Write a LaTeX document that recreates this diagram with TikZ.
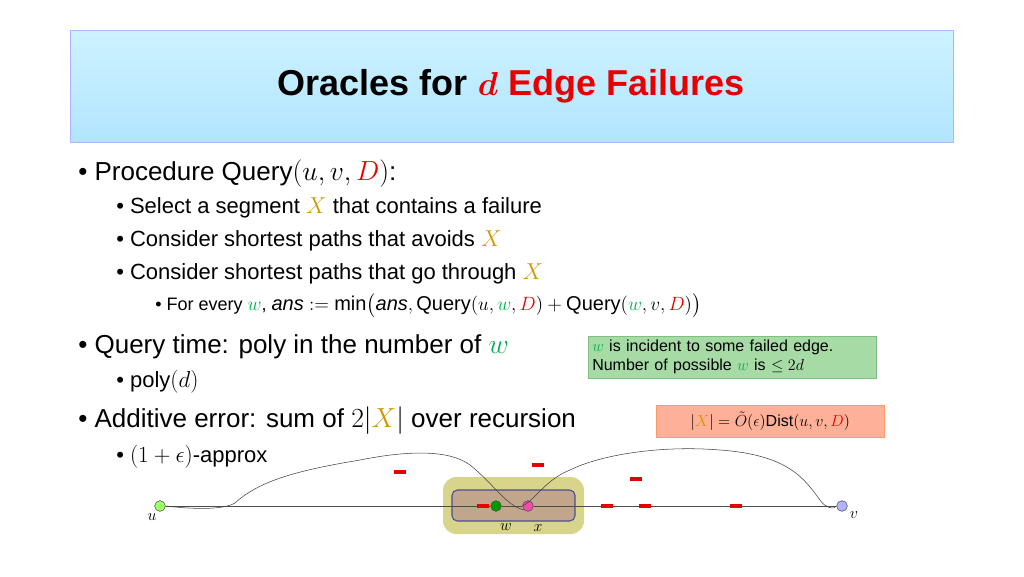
\documentclass[tikz,border=0pt]{standalone}
\usepackage{fontspec}
\setmainfont{Liberation Sans}
\usepackage{amsmath,amssymb}
\definecolor{gold}{RGB}{204,153,0}
\definecolor{wgreen}{RGB}{0,176,80}
\definecolor{fred}{RGB}{230,0,0}
\begin{document}
\begin{tikzpicture}[x=0.75pt,y=-0.75pt,
  lvlone/.style={anchor=west,font=\fontsize{19.5}{22}\selectfont,inner sep=0},
  lvltwo/.style={anchor=west,font=\fontsize{16.5}{19}\selectfont,inner sep=0},
  lvlthree/.style={anchor=west,font=\fontsize{13.5}{16}\selectfont,inner sep=0},
  fail/.style={fill=fred,minimum width=9pt,minimum height=3.5pt,inner sep=0},
  vert/.style={circle,draw=black!70,minimum size=8pt,inner sep=0}]
\useasboundingbox (0,0) rectangle (1024,576);
\shade[top color=blue!25!cyan!20!white,bottom color=blue!35!cyan!30!white,draw=blue!30] (70,30) rectangle (953,142);
\node (title) at (511,86) {\fontsize{27}{32}\selectfont\bfseries Oracles for \textcolor{fred}{$\boldsymbol{d}$ Edge Failures}};
\node[lvlone] (b1) at (78,174) {\textbullet\ Procedure $\mathrm{Query}(u,v,\textcolor{fred}{D})$:};
\node[lvltwo] (b2) at (116,208) {\textbullet\ Select a segment $\textcolor{gold}{X}$ that contains a failure};
\node[lvltwo] (b3) at (116,241) {\textbullet\ Consider shortest paths that avoids $\textcolor{gold}{X}$};
\node[lvltwo] (b4) at (116,274) {\textbullet\ Consider shortest paths that go through $\textcolor{gold}{X}$};
\node[lvlthree] (b5) at (155,306) {\textbullet\ For every $\textcolor{wgreen}{w}$, \fontsize{15}{17}\selectfont$\mathit{ans}\mathrel{:=}\min\bigl(\mathit{ans},\mathrm{Query}(u,\textcolor{wgreen}{w},\textcolor{fred}{D})+\mathrm{Query}(\textcolor{wgreen}{w},v,\textcolor{fred}{D})\bigr)$};
\node[lvlone] (b6) at (78,347) {\textbullet\ Query time: poly in the number of $\textcolor{wgreen}{w}$};
\node[lvltwo] (b7) at (116,382) {\textbullet\ $\mathrm{poly}(d)$};
\node[lvlone] (b8) at (78,421) {\textbullet\ Additive error: sum of $2|\textcolor{gold}{X}|$ over recursion};
\node[lvltwo] (b9) at (116,457) {\textbullet\ $(1+\epsilon)$-approx};
\node[fill=green!60!black!35!white,draw=green!50!black!50,align=left,font=\fontsize{12}{14}\selectfont,anchor=north west,inner sep=3pt,text width=210pt] (gbox) at (588,336) {$\textcolor{wgreen}{w}$ is incident to some failed edge.\\Number of possible $\textcolor{wgreen}{w}$ is $\le 2d$};
\node[fill=orange!45!red!40!white,draw=orange!70!red!60,anchor=north west,minimum width=171pt,minimum height=24pt,font=\fontsize{12}{14}\selectfont] (obox) at (656,405) {$|\textcolor{gold}{X}|=\tilde{O}(\epsilon)\mathrm{Dist}(u,v,\textcolor{fred}{D})$};
% highlight
\fill[rounded corners=10pt,olive!35!white] (443,477) rectangle (584,534);
\draw[rounded corners=4pt,fill=brown!60!gray!70,draw=blue!40!black!70,thick] (452,490) rectangle (575,521);
\node[vert,fill=green!50!lime!60] (u) at (160,506) {};
\node[vert,fill=blue!30!white] (v) at (842,506) {};
\node[vert,fill=green!60!black] (w) at (496,506) {};
\node[vert,fill=magenta!70!white] (x) at (528,506) {};
\draw[black!70] (u) -- (w) -- (x) -- (v);
\draw[black!75,thin] (u.east) .. controls (200,510) and (225,509) .. (235,503)
  .. controls (260,480) and (300,470) .. (360,460)
  .. controls (410,450) and (450,450) .. (470,465)
  .. controls (495,485) and (505,505) .. (x.south west);
\draw[black!75,thin] (x.west) .. controls (535,500) and (545,480) .. (570,470)
  .. controls (600,455) and (660,445) .. (720,450)
  .. controls (790,455) and (805,480) .. (820,500)
  .. controls (825,508) and (835,510) .. (v.west);
\node[font=\large] (ul) at (152,517) {$u$};
\node[font=\large] (vl) at (854,515) {$v$};
\node[font=\large] (wl) at (506,527) {$w$};
\node[font=\large] (xl) at (538,528) {$x$};
\node[fail] (f1) at (400,472) {};
\node[fail] (f2) at (538,465) {};
\node[fail] (f3) at (636,479) {};
\node[fail] (f4) at (483,506) {};
\node[fail] (f5) at (607,506) {};
\node[fail] (f6) at (645,506) {};
\node[fail] (f7) at (736,506) {};
\end{tikzpicture}
\end{document}
